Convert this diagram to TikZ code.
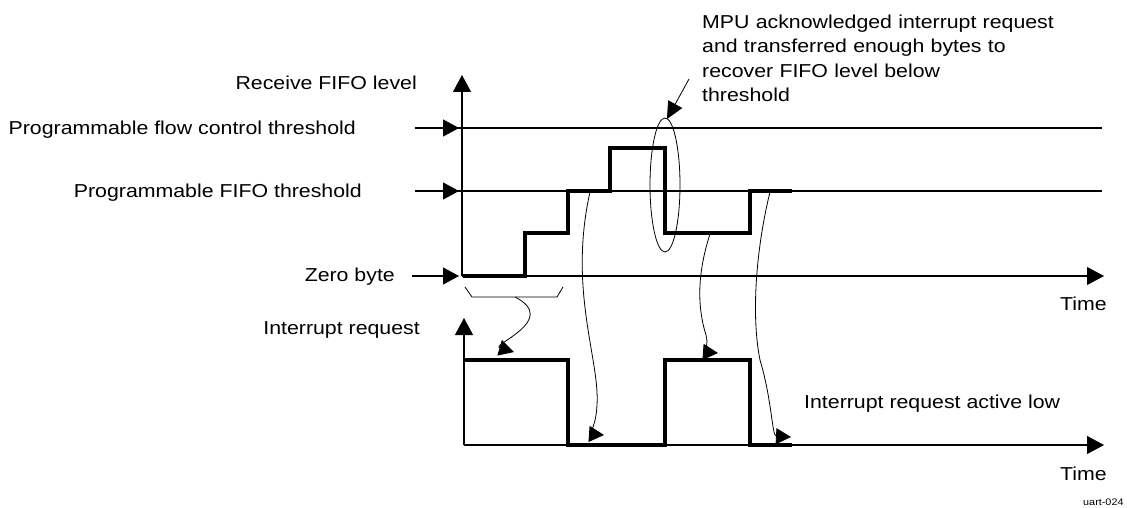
\documentclass[tikz,border=0pt]{standalone}
\usepackage{fontspec}
\setmainfont{Liberation Sans}[FakeStretch=1.14]
\usetikzlibrary{arrows.meta,shapes.geometric}
\begin{document}
\begin{tikzpicture}[x=1pt,y=-1pt,
  font=\fontsize{18.7}{24.5}\selectfont,
  axis/.style={line width=1.1pt},
  wave/.style={line width=3.2pt, line join=miter},
  curvy/.style={line width=0.8pt, -{Triangle[length=15pt,width=16pt]}},
  axtip/.style={line width=1.1pt, -{Triangle[length=17pt,width=18pt]}},
  lvlmark/.style={line width=1.1pt, -{Triangle[length=16pt,width=17pt]}},
  lbl/.style={inner sep=0pt}]
\useasboundingbox (0,0) rectangle (1127,508);

% ---------- upper chart: receive FIFO level ----------
\coordinate (o1) at (462,276);
\coordinate (y1) at (462,75);
\coordinate (x1) at (1104,276);
\draw[axtip] (o1) -- (y1);
\draw[axtip] (o1) -- (x1);

% threshold lines
\coordinate (fcS) at (415,128);  \coordinate (fcE) at (1102,128);
\coordinate (ftS) at (415,191);  \coordinate (ftE) at (1102,191);
\coordinate (zbS) at (412,276);
\coordinate (fcT) at (459,128);
\coordinate (ftT) at (459,191);
\coordinate (zbT) at (459,276);
\draw[axis] (fcS) -- (fcE);
\draw[axis] (ftS) -- (ftE);
\draw[lvlmark] (fcS) -- (fcT);
\draw[lvlmark] (ftS) -- (ftT);
\draw[lvlmark] (zbS) -- (zbT);

% labels
\node[lbl, anchor=base east] (lrx)  at (417,89.5)  {Receive FIFO level};
\node[lbl, anchor=base east] (lfc)  at (356,135)   {Programmable flow control threshold};
\node[lbl, anchor=base east] (lft)  at (362,197)   {Programmable FIFO threshold};
\node[lbl, anchor=base east] (lzb)  at (395,281.5) {Zero byte};
\node[lbl, anchor=base east] (lt1)  at (1107,310.5){Time};

% FIFO level waveform
\draw[wave] (463,276) -- (525,276) -- (525,233) -- (568,233) -- (568,191)
  -- (610,191) -- (610,148) -- (665,148) -- (665,233) -- (750,233)
  -- (750,191) -- (792,191);

% ellipse and annotation
\node[draw, line width=0.8pt, ellipse, minimum width=30pt, minimum height=134pt, inner sep=0pt] (ell) at (665,185) {};
\coordinate (annS) at (689,79);
\coordinate (annE) at (667,119);
\draw[line width=0.8pt, -{Triangle[length=17pt,width=16pt]}] (annS) -- (annE);
\node[lbl, anchor=base west, text width=420pt, align=left] (ann) at (702,28.3)
  {MPU acknowledged interrupt request\\and transferred enough bytes to\\recover FIFO level below\\threshold};

% bracket
\draw[line width=0.8pt] (465,287) -- (472,297) -- (557,297) -- (563,287);

% ---------- lower chart: interrupt request ----------
\coordinate (o2) at (464,445);
\coordinate (y2) at (464,318);
\coordinate (x2) at (1104,445);
\draw[axtip] (o2) -- (y2);
\draw[axtip] (o2) -- (x2);

\node[lbl, anchor=base east] (lir)  at (420,334)   {Interrupt request};
\node[lbl, anchor=base east] (lt2)  at (1107,480)  {Time};
\node[lbl, anchor=base west] (lal)  at (804,408.3) {Interrupt request active low};

\draw[wave] (464,360) -- (568,360) -- (568,445) -- (665,445) -- (665,360)
  -- (750,360) -- (750,445) -- (792,445);

% curved connectors
\draw[curvy] (515,297) .. controls (560,320) and (490,345) .. (514,352);
\draw[curvy] (590,192) .. controls (568,290) and (600,360) .. (597,405)
  .. controls (596,425) and (590,434) .. (604,435);
\draw[curvy] (710,234) .. controls (700,265) and (695,300) .. (706,335)
  .. controls (709,345) and (704,352) .. (718,353);
\draw[curvy] (770,192) .. controls (758,240) and (750,310) .. (760,360)
  .. controls (772,400) and (772,436) .. (791,437);

\node[lbl, anchor=base west, font=\fontsize{9.5}{11}\selectfont] (tag) at (1083,505.5) {uart-024};
\end{tikzpicture}
\end{document}
